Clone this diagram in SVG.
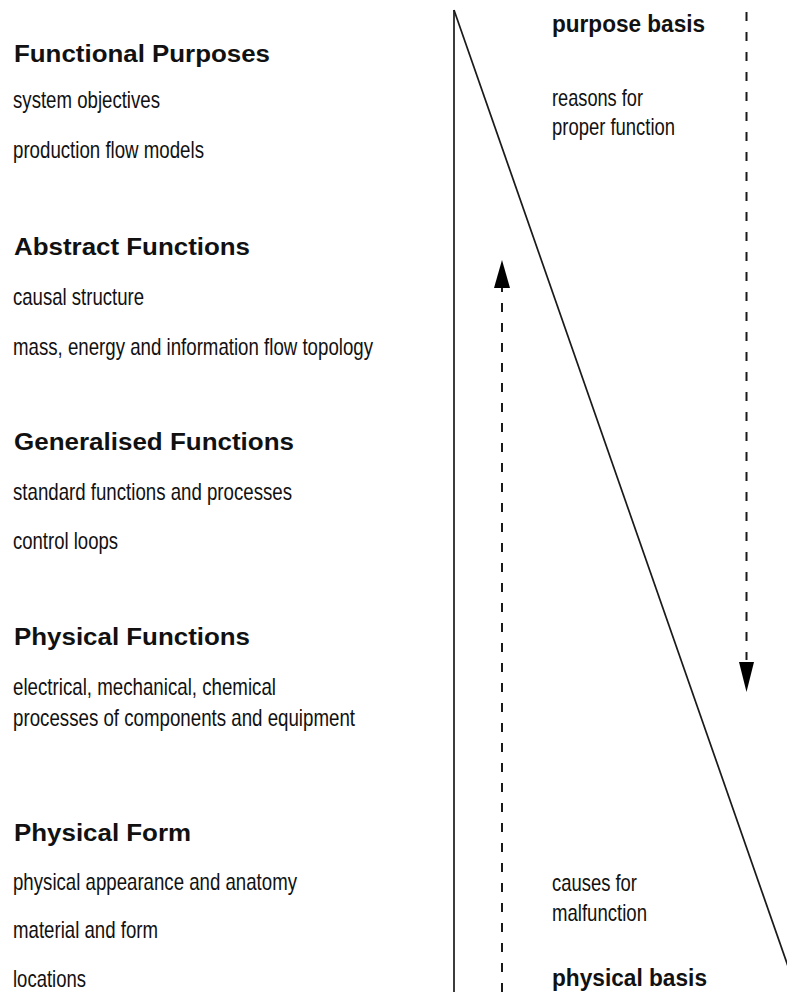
<svg xmlns="http://www.w3.org/2000/svg" width="787" height="992" viewBox="0 0 787 992">
<style>
text{font-family:"Liberation Sans",Arial,sans-serif;fill:#111}
.h{font-size:23px;font-weight:bold}
.b{font-size:24px}
.ln{stroke:#1a1a1a;stroke-width:1.7;fill:none}
.dash{stroke:#1a1a1a;stroke-width:2;fill:none;stroke-dasharray:9 11}
.head{fill:#000}
</style>
<rect width="787" height="992" fill="#fff"/>
<g id="connectors">
<line class="ln" x1="454" y1="10" x2="454" y2="992"/>
<line class="ln" x1="454" y1="10" x2="790" y2="972"/>
<line class="dash" x1="502" y1="992" x2="502" y2="288"/>
<polygon class="head" points="502,260 494,288 510,288"/>
<line class="dash" x1="746.5" y1="12" x2="746.5" y2="660"/>
<polygon class="head" points="739,662 754,662 746.5,692"/>
</g>
<g id="functional-purposes">
<text class="h" x="14" y="62" textLength="256" lengthAdjust="spacingAndGlyphs">Functional Purposes</text>
<text class="b" x="13" y="108" textLength="147" lengthAdjust="spacingAndGlyphs">system objectives</text>
<text class="b" x="13" y="158" textLength="191" lengthAdjust="spacingAndGlyphs">production flow models</text>
</g>
<g id="abstract-functions">
<text class="h" x="14" y="255" textLength="236" lengthAdjust="spacingAndGlyphs">Abstract Functions</text>
<text class="b" x="13" y="305" textLength="131" lengthAdjust="spacingAndGlyphs">causal structure</text>
<text class="b" x="13" y="355" textLength="360" lengthAdjust="spacingAndGlyphs">mass, energy and information flow topology</text>
</g>
<g id="generalised-functions">
<text class="h" x="14" y="450" textLength="280" lengthAdjust="spacingAndGlyphs">Generalised Functions</text>
<text class="b" x="13" y="500" textLength="279" lengthAdjust="spacingAndGlyphs">standard functions and processes</text>
<text class="b" x="13" y="549" textLength="105" lengthAdjust="spacingAndGlyphs">control loops</text>
</g>
<g id="physical-functions">
<text class="h" x="14" y="645" textLength="236" lengthAdjust="spacingAndGlyphs">Physical Functions</text>
<text class="b" x="13" y="695" textLength="263" lengthAdjust="spacingAndGlyphs">electrical, mechanical, chemical</text>
<text class="b" x="13" y="726" textLength="342" lengthAdjust="spacingAndGlyphs">processes of components and equipment</text>
</g>
<g id="physical-form">
<text class="h" x="14" y="841" textLength="177" lengthAdjust="spacingAndGlyphs">Physical Form</text>
<text class="b" x="13" y="890" textLength="284" lengthAdjust="spacingAndGlyphs">physical appearance and anatomy</text>
<text class="b" x="13" y="938" textLength="145" lengthAdjust="spacingAndGlyphs">material and form</text>
<text class="b" x="13" y="987" textLength="73" lengthAdjust="spacingAndGlyphs">locations</text>
</g>
<g id="purpose-basis">
<text class="h" x="552" y="32" textLength="153" lengthAdjust="spacingAndGlyphs">purpose basis</text>
<text class="b" x="552" y="106" textLength="91" lengthAdjust="spacingAndGlyphs">reasons for</text>
<text class="b" x="552" y="135" textLength="123" lengthAdjust="spacingAndGlyphs">proper function</text>
</g>
<g id="physical-basis">
<text class="b" x="552" y="891" textLength="85" lengthAdjust="spacingAndGlyphs">causes for</text>
<text class="b" x="552" y="921" textLength="95" lengthAdjust="spacingAndGlyphs">malfunction</text>
<text class="h" x="552" y="986" textLength="155" lengthAdjust="spacingAndGlyphs">physical basis</text>
</g>
</svg>
